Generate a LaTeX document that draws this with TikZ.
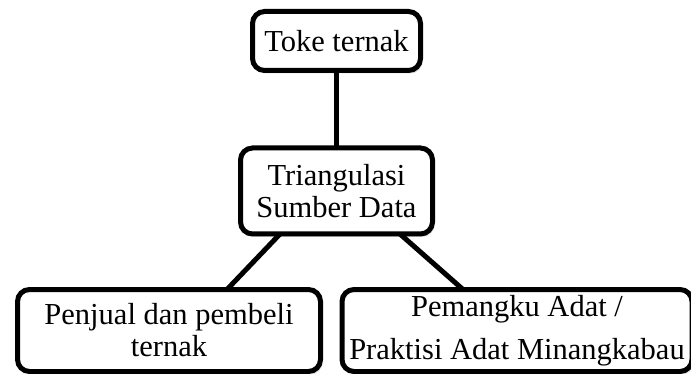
\documentclass[tikz,border=0pt]{standalone}
\usepackage{fontspec}
\setmainfont{Liberation Serif}
\usetikzlibrary{shadows}
\begin{document}
\begin{tikzpicture}[x=1pt,y=-1pt,
  box/.style={draw=black, line width=5pt, rounded corners=12pt, fill=white,
    inner sep=0pt, outer sep=0pt, align=center,
    font=\fontsize{30.5}{32}\selectfont,
    drop shadow={opacity=0.25, shadow xshift=2pt, shadow yshift=-3pt}},
  link/.style={draw=black, line width=5pt}]
\fill[white] (0,0) rectangle (691,374);
\useasboundingbox (0,0) rectangle (691,374);
\node[box, minimum width=168pt, minimum height=59pt] (top) at (336.5,41) {Toke ternak};
\node[box, minimum width=192pt, minimum height=86pt] (mid) at (336.5,191) {Triangulasi\\Sumber Data};
\node[box, minimum width=303pt, minimum height=82pt] (bl) at (169,330.5) {Penjual dan pembeli\\ternak};
\node[box, minimum width=350pt, minimum height=82pt] (br) at (517,330.5) {Pemangku Adat /\\[11pt]Praktisi Adat Minangkabau};
\draw[link] (top.south) -- (mid.north);
\draw[link] ([xshift=-56.5pt]mid.south) -- ([xshift=58pt]bl.north);
\draw[link] ([xshift=63.5pt]mid.south) -- ([xshift=-54pt]br.north);
\end{tikzpicture}
\end{document}
